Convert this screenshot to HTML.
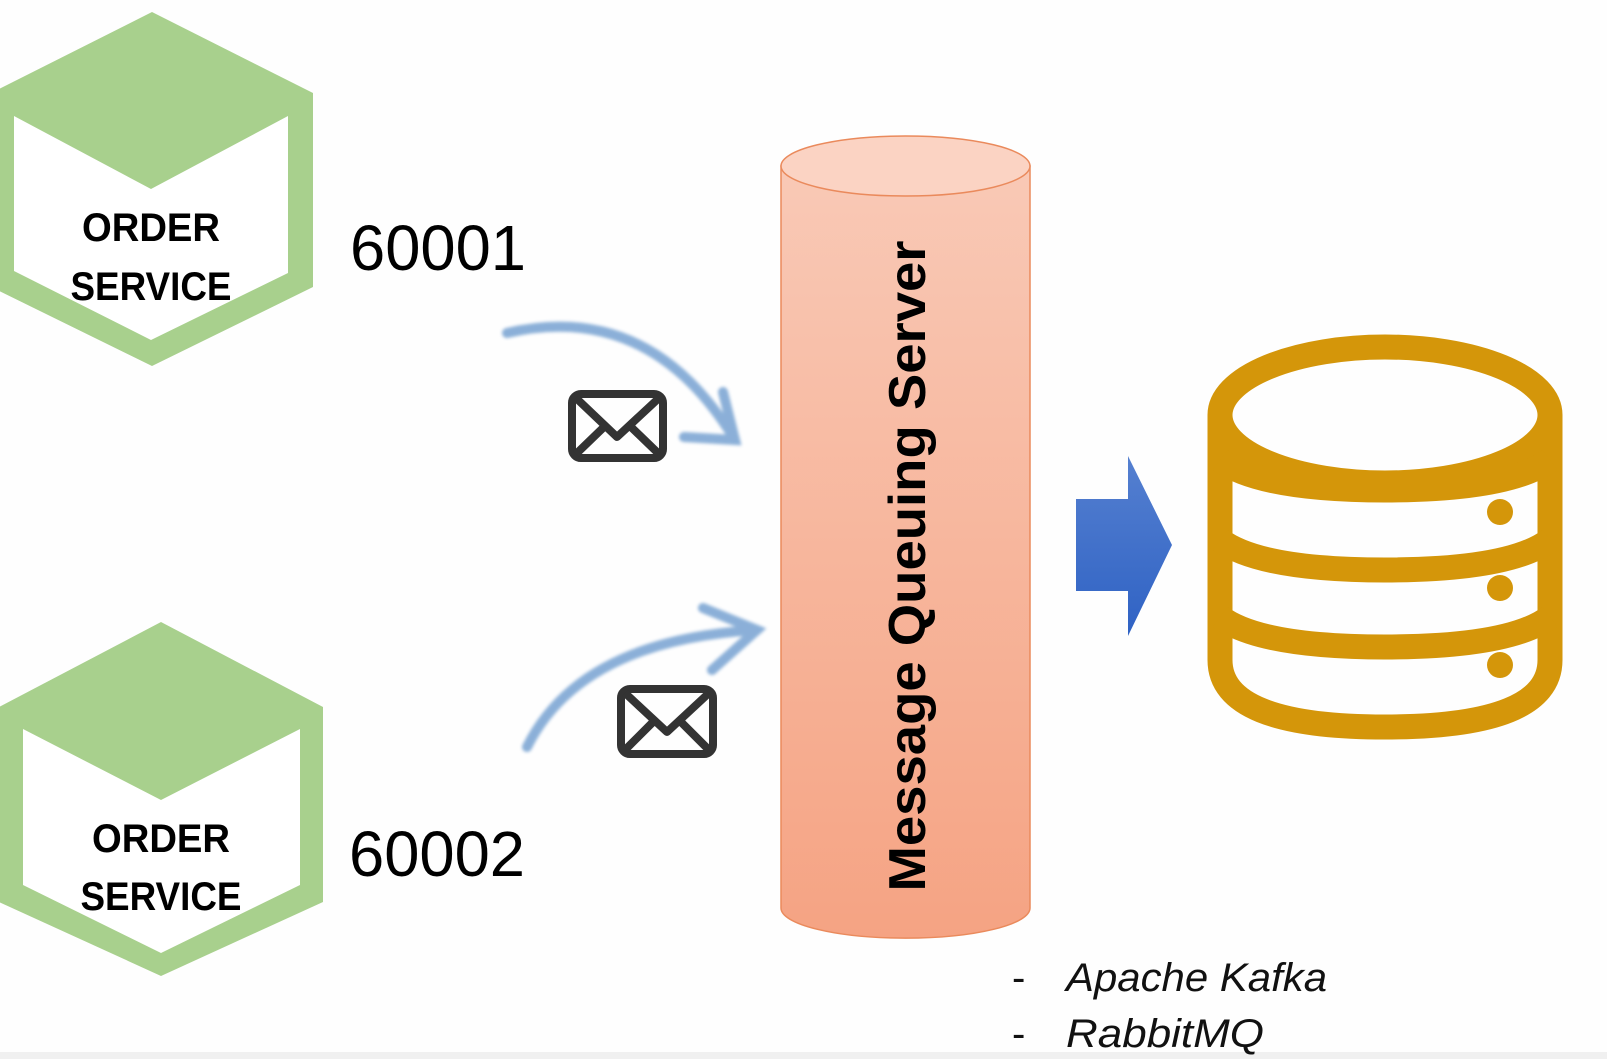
<!DOCTYPE html>
<html><head><meta charset="utf-8"><style>
html,body{margin:0;padding:0;background:#fff;}
svg{display:block;}
</style></head><body>
<svg width="1607" height="1059" viewBox="0 0 1607 1059" xmlns="http://www.w3.org/2000/svg">
<defs>
<linearGradient id="cyl" x1="0" y1="0" x2="0" y2="1">
<stop offset="0" stop-color="#f9c9b6"/><stop offset="1" stop-color="#f5a383"/>
</linearGradient>
<linearGradient id="blue" x1="0" y1="0" x2="0" y2="1">
<stop offset="0" stop-color="#5580d0"/><stop offset="1" stop-color="#2f62c4"/>
</linearGradient>
<filter id="bl" x="-20%" y="-20%" width="140%" height="140%"><feGaussianBlur stdDeviation="1.6"/></filter>
</defs>
<rect width="1607" height="1059" fill="#fefefe"/>
<rect y="1052" width="1607" height="7" fill="#f0f0f0"/>

<!-- Hexagon 1 -->
<polygon points="152,12 313,93 313,287 152,366 -9,287 -9,93" fill="#a8d08d"/>
<polygon points="14,116 151,189 288,116 288,273 151,340 14,271" fill="#fff"/>
<text x="151" y="241" font-family="Liberation Sans, sans-serif" font-weight="bold" font-size="40" text-anchor="middle" textLength="138" lengthAdjust="spacingAndGlyphs">ORDER</text>
<text x="151" y="300" font-family="Liberation Sans, sans-serif" font-weight="bold" font-size="40" text-anchor="middle" textLength="161" lengthAdjust="spacingAndGlyphs">SERVICE</text>
<text x="350" y="270" font-family="Liberation Sans, sans-serif" font-size="64" textLength="176" lengthAdjust="spacingAndGlyphs">60001</text>

<!-- Hexagon 2 -->
<polygon points="161,622 323,707 323,902 161,976 -1,902 -1,707" fill="#a8d08d"/>
<polygon points="23,729 161,800 300,729 300,885 161,953 23,885" fill="#fff"/>
<text x="161" y="852" font-family="Liberation Sans, sans-serif" font-weight="bold" font-size="40" text-anchor="middle" textLength="138" lengthAdjust="spacingAndGlyphs">ORDER</text>
<text x="161" y="910" font-family="Liberation Sans, sans-serif" font-weight="bold" font-size="40" text-anchor="middle" textLength="161" lengthAdjust="spacingAndGlyphs">SERVICE</text>
<text x="349" y="876" font-family="Liberation Sans, sans-serif" font-size="64" textLength="176" lengthAdjust="spacingAndGlyphs">60002</text>

<!-- Cylinder -->
<path d="M781,166 L781,908 A124,30 0 0 0 1030,908 L1030,166 Z" fill="url(#cyl)" stroke="#ea8a5c" stroke-width="1.5"/>
<ellipse cx="905.5" cy="166" rx="124.5" ry="30" fill="#fbd3c3" stroke="#ea8a5c" stroke-width="1.5"/>
<text transform="translate(925,566) rotate(-90)" font-family="Liberation Sans, sans-serif" font-weight="bold" font-size="52" text-anchor="middle" textLength="651" lengthAdjust="spacingAndGlyphs">Message Queuing Server</text>

<!-- Curved arrows -->
<g stroke="#7fa7d4" stroke-width="10" fill="none" stroke-linecap="round" filter="url(#bl)" opacity="0.9">
<path d="M507,333 Q650,300 735,440"/>
<path d="M723,392 L735,440 L684,437"/>
<path d="M527,747 Q580,640 757,630"/>
<path d="M703,608 L757,630 L712,670"/>
</g>

<!-- Envelopes -->
<g fill="none" stroke="#333" stroke-width="8" stroke-linejoin="round">
<rect x="572" y="394" width="91" height="64" rx="9"/>
<path d="M576,398 L617,437 L659,398 M576,454 L605,426 M659,454 L630,426"/>
<rect x="621" y="689" width="92" height="65" rx="9"/>
<path d="M625,693 L667,732 L709,693 M625,750 L654,721 M709,750 L680,721"/>
</g>

<!-- Blue arrow -->
<polygon points="1076,499 1128,499 1128,456 1172,545 1128,636 1128,591 1076,591" fill="url(#blue)"/>

<!-- Database -->
<g fill="none" stroke="#d4960a" stroke-width="25">
<ellipse cx="1385" cy="415" rx="165" ry="68"/>
<path d="M1220,415 L1220,660 Q1220,727 1385,727 Q1550,727 1550,660 L1550,415"/>
<path d="M1220,460 Q1260,490 1385,490 Q1510,490 1550,460"/>
<path d="M1220,540 Q1260,570 1385,570 Q1510,570 1550,540"/>
<path d="M1220,617 Q1260,647 1385,647 Q1510,647 1550,617"/>
</g>
<g fill="#d4960a">
<circle cx="1500" cy="512" r="13"/>
<circle cx="1500" cy="588" r="13"/>
<circle cx="1500" cy="665" r="13"/>
</g>

<!-- List -->
<g font-family="Liberation Sans, sans-serif" font-size="40" fill="#111">
<text x="1012" y="991">-</text>
<text x="1066" y="991" font-style="italic" textLength="261" lengthAdjust="spacingAndGlyphs">Apache Kafka</text>
<text x="1012" y="1047">-</text>
<text x="1066" y="1047" font-style="italic" textLength="198" lengthAdjust="spacingAndGlyphs">RabbitMQ</text>
</g>
</svg>
</body></html>
